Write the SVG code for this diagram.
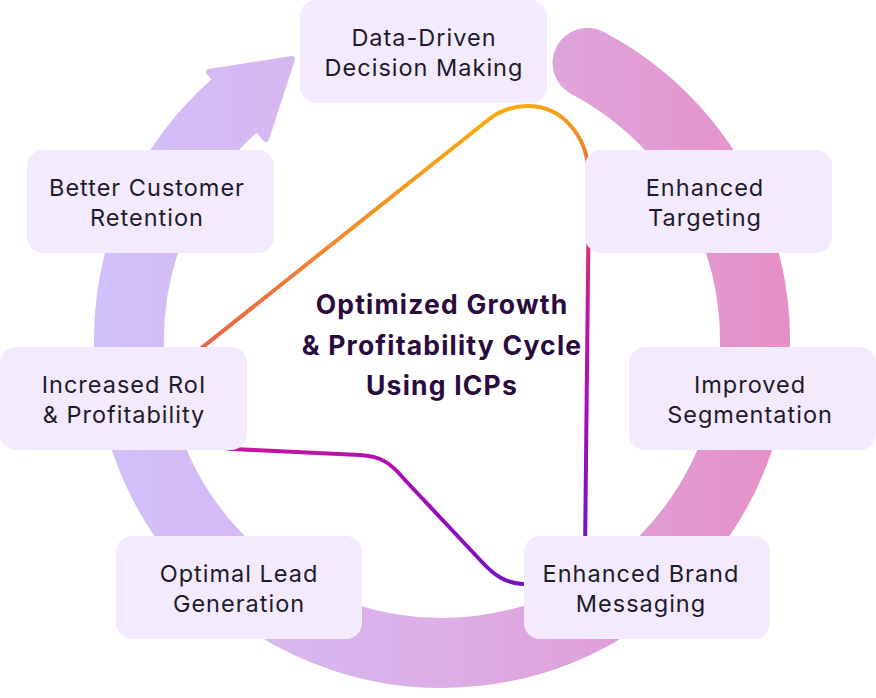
<svg xmlns="http://www.w3.org/2000/svg" width="876" height="698" viewBox="0 0 876 698">
<defs>
<linearGradient id="ringGrad" gradientUnits="userSpaceOnUse" x1="95" y1="0" x2="790" y2="0">
<stop offset="0" stop-color="#d1c1fb"/>
<stop offset="0.5" stop-color="#dcaee7"/>
<stop offset="1" stop-color="#e58fc6"/>
</linearGradient>
<linearGradient id="lineGrad" gradientUnits="userSpaceOnUse" x1="480" y1="100" x2="680" y2="580">
<stop offset="0" stop-color="#f8b600"/>
<stop offset="0.13" stop-color="#f2902a"/>
<stop offset="0.24" stop-color="#e5604a"/>
<stop offset="0.34" stop-color="#d8306c"/>
<stop offset="0.45" stop-color="#c814a0"/>
<stop offset="0.62" stop-color="#a80eb8"/>
<stop offset="0.85" stop-color="#7a10c4"/>
<stop offset="1" stop-color="#6e10c8"/>
</linearGradient>
<style>
.box{fill:#f3eafd;}
.lbl{font-family:Inter,"Noto Sans","DejaVu Sans",sans-serif;font-size:23.5px;letter-spacing:1px;fill:#1d1a2c;text-anchor:middle;}
.title{font-family:Inter,"Noto Sans","DejaVu Sans",sans-serif;font-size:26.5px;font-weight:bold;letter-spacing:1.2px;fill:#2a0b3e;text-anchor:middle;}
</style>
</defs>
<g id="ring">
<path d="M 587.5 62.9 A 313 313 0 1 1 235.8 104.5" fill="none" stroke="url(#ringGrad)" stroke-width="70" stroke-linecap="round"/>
<polygon points="209,72 292,59 266,139" fill="url(#ringGrad)" stroke="url(#ringGrad)" stroke-width="6" stroke-linejoin="round"/>
</g>
<g id="connectors">
<path d="M 150 389 L 488 120 C 512 101 548 100 570 125 C 584 140 589 158 589 180 L 585 555 Q 585 585 555 585 L 523 584 C 505 583 494 575 482 562 L 405 480 C 390 462 380 456 360 455 L 232 449 L 210 446 L 160 443 Z" fill="none" stroke="url(#lineGrad)" stroke-width="4" stroke-linejoin="round"/>
</g>
<g id="node-data">
<rect class="box" x="300" y="0" width="247" height="103" rx="16"/>
<text class="lbl" x="424" y="46">Data-Driven</text>
<text class="lbl" x="424" y="76">Decision Making</text>
</g>
<g id="node-retention">
<rect class="box" x="27" y="150" width="247" height="103" rx="16"/>
<text class="lbl" x="147" y="196">Better Customer</text>
<text class="lbl" x="147" y="226">Retention</text>
</g>
<g id="node-targeting">
<rect class="box" x="585" y="150" width="247" height="103" rx="16"/>
<text class="lbl" x="705" y="196">Enhanced</text>
<text class="lbl" x="705" y="226">Targeting</text>
</g>
<g id="node-roi">
<rect class="box" x="0" y="347" width="247" height="103" rx="16"/>
<text class="lbl" x="124" y="393">Increased RoI</text>
<text class="lbl" x="124" y="423">&amp; Profitability</text>
</g>
<g id="node-segmentation">
<rect class="box" x="629" y="347" width="247" height="103" rx="16"/>
<text class="lbl" x="750" y="393">Improved</text>
<text class="lbl" x="750" y="423">Segmentation</text>
</g>
<g id="node-lead">
<rect class="box" x="116" y="536" width="246" height="103" rx="16"/>
<text class="lbl" x="239" y="582">Optimal Lead</text>
<text class="lbl" x="239" y="612">Generation</text>
</g>
<g id="node-brand">
<rect class="box" x="524" y="536" width="246" height="103" rx="16"/>
<text class="lbl" x="641" y="582">Enhanced Brand</text>
<text class="lbl" x="641" y="612">Messaging</text>
</g>
<g id="title">
<text class="title" x="442" y="314">Optimized Growth</text>
<text class="title" x="442" y="355">&amp; Profitability Cycle</text>
<text class="title" x="442" y="395">Using ICPs</text>
</g>
</svg>
